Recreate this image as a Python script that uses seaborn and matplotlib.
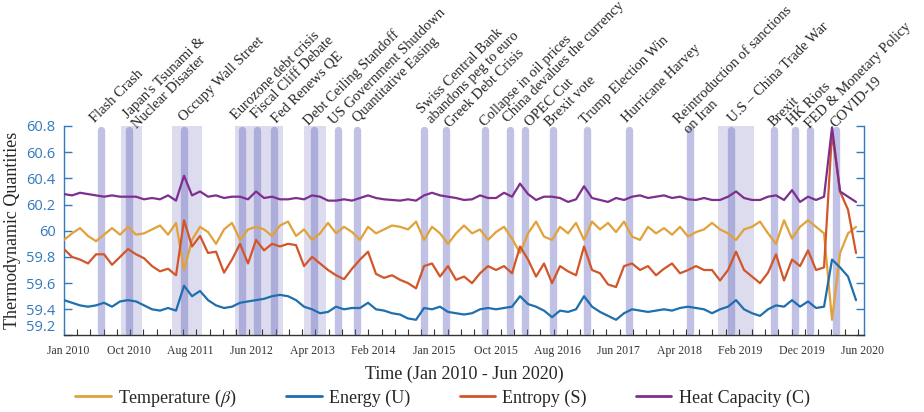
import numpy as np
import pandas as pd
import seaborn as sns
import matplotlib.pyplot as plt
from matplotlib.lines import Line2D
from matplotlib.ticker import FixedLocator

# one sample every 26 trading days, Jan 2010 -> May 2020
step = 26
temperature = [59.93, 59.98, 60.02, 59.96, 59.92, 59.97, 60.02, 59.97, 60.03, 59.97,
               59.98, 60.01, 60.04, 59.97, 60.06, 59.70, 59.93, 60.03, 59.99, 59.90,
               60.01, 60.06, 59.93, 60.01, 60.03, 60.01, 59.96, 60.04, 60.07, 59.96,
               60.01, 59.93, 59.98, 60.06, 59.98, 60.03, 59.99, 59.93, 60.03, 59.98,
               60.01, 60.04, 60.03, 60.01, 60.07, 59.93, 60.03, 59.98, 59.90, 59.98,
               60.04, 59.98, 60.01, 59.93, 59.99, 60.03, 59.94, 59.83, 59.98, 60.07,
               59.955, 59.93, 60.03, 59.98, 60.06, 59.93, 60.07, 60.01, 60.06, 59.99,
               60.07, 59.955, 59.93, 60.03, 59.98, 60.02, 59.97, 60.03, 59.955, 59.99,
               60.01, 60.06, 60.01, 59.98, 59.93, 60.01, 60.03, 60.07, 59.98, 59.90,
               60.08, 59.94, 60.03, 60.08, 60.03, 59.98, 59.32, 59.83, 59.98, 60.03]
energy = [59.47, 59.45, 59.43, 59.42, 59.43, 59.45, 59.42, 59.46, 59.47, 59.46,
          59.43, 59.40, 59.39, 59.41, 59.39, 59.58, 59.50, 59.54, 59.47, 59.43,
          59.41, 59.42, 59.45, 59.46, 59.47, 59.48, 59.50, 59.51, 59.50, 59.47,
          59.42, 59.40, 59.37, 59.38, 59.42, 59.40, 59.41, 59.41, 59.45, 59.40,
          59.39, 59.37, 59.36, 59.33, 59.32, 59.41, 59.40, 59.42, 59.38, 59.37,
          59.36, 59.37, 59.40, 59.41, 59.40, 59.41, 59.42, 59.50, 59.44, 59.42,
          59.39, 59.34, 59.39, 59.38, 59.40, 59.50, 59.42, 59.38, 59.35, 59.32,
          59.37, 59.40, 59.39, 59.38, 59.39, 59.40, 59.39, 59.41, 59.42, 59.41,
          59.40, 59.37, 59.40, 59.42, 59.47, 59.40, 59.37, 59.35, 59.40, 59.43,
          59.42, 59.47, 59.42, 59.46, 59.41, 59.42, 59.78, 59.72, 59.65, 59.47]
entropy = [59.86, 59.80, 59.78, 59.75, 59.82, 59.82, 59.74, 59.80, 59.86, 59.82,
           59.79, 59.73, 59.69, 59.71, 59.66, 60.08, 59.88, 59.96, 59.83, 59.84,
           59.68, 59.78, 59.90, 59.75, 59.93, 59.85, 59.90, 59.88, 59.90, 59.89,
           59.73, 59.80, 59.75, 59.70, 59.66, 59.63, 59.71, 59.78, 59.84, 59.67,
           59.64, 59.66, 59.625, 59.60, 59.56, 59.73, 59.75, 59.65, 59.73, 59.625,
           59.65, 59.60, 59.675, 59.73, 59.70, 59.73, 59.675, 59.88, 59.78, 59.65,
           59.75, 59.60, 59.73, 59.69, 59.66, 59.88, 59.70, 59.675, 59.59, 59.57,
           59.73, 59.75, 59.70, 59.73, 59.66, 59.71, 59.75, 59.675, 59.70, 59.73,
           59.70, 59.70, 59.62, 59.70, 59.84, 59.70, 59.65, 59.60, 59.68, 59.82,
           59.62, 59.78, 59.73, 59.85, 59.70, 59.72, 60.75, 60.30, 60.16, 59.83]
heat_capacity = [60.28, 60.27, 60.29, 60.28, 60.27, 60.26, 60.27, 60.26, 60.26, 60.26,
                 60.24, 60.25, 60.24, 60.27, 60.23, 60.42, 60.27, 60.30, 60.26, 60.27,
                 60.25, 60.26, 60.26, 60.24, 60.30, 60.25, 60.26, 60.24, 60.24, 60.25,
                 60.24, 60.27, 60.26, 60.23, 60.23, 60.24, 60.23, 60.25, 60.27, 60.25,
                 60.24, 60.235, 60.23, 60.24, 60.23, 60.27, 60.29, 60.27, 60.26, 60.25,
                 60.235, 60.24, 60.27, 60.25, 60.25, 60.29, 60.26, 60.36, 60.28, 60.235,
                 60.26, 60.26, 60.25, 60.22, 60.24, 60.34, 60.25, 60.235, 60.22, 60.25,
                 60.235, 60.26, 60.27, 60.25, 60.26, 60.27, 60.25, 60.26, 60.24, 60.235,
                 60.25, 60.235, 60.235, 60.26, 60.30, 60.25, 60.235, 60.235, 60.26, 60.27,
                 60.235, 60.31, 60.22, 60.26, 60.235, 60.26, 60.79, 60.30, 60.26, 60.22]

series_names = ['Temperature ($\\beta$)', 'Energy (U)', 'Entropy (S)', 'Heat Capacity (C)']
series_colors = ['#E1A23A', '#1F6FAE', '#D2562A', '#7E2F8E']

# market events (trading day) and longer periods
event_names = ['Flash Crash', "Japan's Tsunami &\nNuclear Disaster", 'Occupy Wall Street',
               'Eurozone debt crisis', 'Fiscal Cliff Debate', 'Fed Renews QE',
               'Debt Ceiling Standoff', 'US Government Shutdown', 'Quantitative Easing',
               'Swiss Central Bank\nabandons peg to euro', 'Greek Debt Crisis',
               'Collapse in oil prices', 'China devalues the currency', 'OPEC Cut',
               'Brexit vote', 'Trump Election Win', 'Hurricane Harvey',
               'Reintroduction of sanctions\non Iran', 'U.S – China Trade War', 'Brexit',
               'HK Riots', 'FED & Monetary Policy', 'COVID-19']
event_days = [119, 210, 390, 578, 628, 684, 811, 890, 952, 1171, 1241, 1369, 1449,
              1498, 1588, 1699, 1835, 2036, 2167, 2307, 2376, 2424, 2509]
period_start = [185, 351, 556, 780, 2125]
period_end = [254, 449, 712, 852, 2244]

# nudge of each event label's first line (pixels) so neighbours do not collide
label_dx = [-6, -3, 0, -6, -1, 2, -5, -4, 1, -4, 4, 0, -2, 5, -3, -2, -2, -13, 2, 0, -3, 0, -1]
label_dy = [3, 9, 4, 6, 7, 3, 0, 1, 3, 14, -2, -1, 3, -1, -1, 1, 3, 4, 3, -1, 0, -3, -2]

tick_labels = ['Jan 2010', 'Oct 2010', 'Aug 2011', 'Jun 2012', 'Apr 2013', 'Feb 2014',
               'Jan 2015', 'Oct 2015', 'Aug 2016', 'Jun 2017', 'Apr 2018', 'Feb 2019',
               'Dec 2019', 'Jun 2020']

days = np.arange(len(temperature)) * step
df = pd.DataFrame({
    'day': np.tile(days, 4),
    'value': temperature + energy + entropy + heat_capacity,
    'series': np.repeat(series_names, len(days)),
})

sns.set_style('white')
plt.rcParams['font.family'] = ['Liberation Serif', 'DejaVu Serif']
plt.rcParams['mathtext.fontset'] = 'stix'

axis_blue = '#3279BE'
fig = plt.figure(figsize=(9.24, 4.12), dpi=100)
ax = fig.add_axes([0.0693, 0.1857, 0.8658, 0.5085])

for a, b in zip(period_start, period_end):
    ax.axvspan(a, b, color='#DCDCEE', lw=0, zorder=0)
for d in event_days:
    ax.axvline(d, ymin=0.017, ymax=0.983, color='#6A6CBF', alpha=0.42, lw=5.3,
               solid_capstyle='round', zorder=1)

sns.lineplot(data=df, x='day', y='value', hue='series', hue_order=series_names,
             palette=series_colors, estimator=None, lw=1.6, legend=False, ax=ax, zorder=3)

ax.set_xlim(0, 2600)
ax.set_ylim(59.2, 60.8)
yt = [59.2, 59.4, 59.6, 59.8, 60.0, 60.2, 60.4, 60.6, 60.8]
ax.set_yticks(yt, ['59.2', '59.4', '59.6', '59.8', '60', '60.2', '60.4', '60.6', '60.8'])
ax.tick_params(axis='y', direction='in', length=5.8, width=1, color=axis_blue,
               labelcolor=axis_blue, labelsize=10.5, left=True, right=True, pad=6)
for lbl in ax.get_yticklabels():
    lbl.set_fontfamily('Open Sans')
ax.yaxis.get_major_ticks()[0].label1.set_verticalalignment('bottom')

ax.set_xticks(np.linspace(12, 2596, len(tick_labels)), tick_labels)
ax.tick_params(axis='x', which='major', length=0, pad=7, labelsize=8.5, labelcolor='#333333')
ax.xaxis.set_minor_locator(FixedLocator(np.arange(0, 2600, 43)))
ax.tick_params(axis='x', which='minor', direction='in', length=4, width=0.8,
               color='#333333', bottom=True)

for side in ['left', 'right']:
    ax.spines[side].set_color(axis_blue)
    ax.spines[side].set_linewidth(1)
ax.spines['top'].set_visible(False)
ax.spines['bottom'].set_color('#333333')
ax.spines['bottom'].set_linewidth(1)

ax.set_xlabel('Time (Jan 2010 - Jun 2020)', fontsize=13, labelpad=6)
ax.set_ylabel('Thermodynamic Quantities', fontsize=13, labelpad=4)

label_size = 10.5
line_gap = 1.07
# va='baseline' pins the last line, so move multi-line labels down one line
line_shift = label_size * line_gap * fig.dpi / 72 * 0.707
for name, d, dx, dy in zip(event_names, event_days, label_dx, label_dy):
    n = name.count('\n')
    ax.annotate(name, xy=(d, 1), xycoords=('data', 'axes fraction'),
                xytext=(dx + n * line_shift, dy - n * line_shift), textcoords='offset pixels',
                rotation=45, rotation_mode='anchor', ha='left', va='baseline',
                fontsize=label_size, linespacing=line_gap, annotation_clip=False)

handles = [Line2D([], [], color=c, lw=2) for c in series_colors]
fig.legend(handles, series_names, loc='center', bbox_to_anchor=(0.479, 0.034), ncol=4,
           frameon=False, fontsize=13, handlelength=1.95, handletextpad=0.4,
           columnspacing=2.75)

fig.savefig('out.png', dpi=100)
